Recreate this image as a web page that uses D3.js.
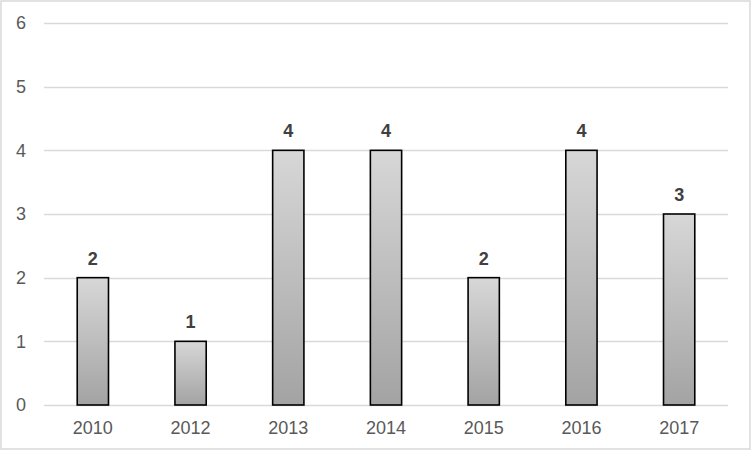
<!DOCTYPE html>
<html>
<head>
<meta charset="utf-8">
<script src="https://cdn.jsdelivr.net/npm/d3@7"></script>
<style>
  body { margin: 0; background: #fff; }
  text { font-family: "Liberation Sans", Arial, sans-serif; }
</style>
</head>
<body>
<div id="chart"></div>
<script>
// Data
const years = ["2010", "2012", "2013", "2014", "2015", "2016", "2017"];
const counts = [2, 1, 4, 4, 2, 4, 3];
const yTicks = [0, 1, 2, 3, 4, 5, 6];

const W = 752, H = 452;
const margin = {top: 23, right: 24, bottom: 47, left: 44};

const svg = d3.select("#chart").append("svg")
    .attr("width", W)
    .attr("height", H);

// outer frame
svg.append("rect")
    .attr("x", 1).attr("y", 1)
    .attr("width", W - 3).attr("height", H - 4)
    .attr("fill", "#fff")
    .attr("stroke", "#d9d9d9")
    .attr("stroke-width", 1.5);

const defs = svg.append("defs");
const grad = defs.append("linearGradient")
    .attr("id", "barGrad")
    .attr("x1", 0).attr("y1", 0).attr("x2", 0).attr("y2", 1);
grad.append("stop").attr("offset", "0%").attr("stop-color", "#d7d7d7");
grad.append("stop").attr("offset", "100%").attr("stop-color", "#a3a3a3");

const x = d3.scaleBand()
    .domain(years)
    .range([margin.left, W - margin.right])
    .paddingInner(0.68)
    .paddingOuter(0.34);

const y = d3.scaleLinear()
    .domain([0, 6])
    .range([H - margin.bottom, margin.top]);

// gridlines
svg.append("g")
  .selectAll("line")
  .data(yTicks)
  .join("line")
    .attr("x1", margin.left)
    .attr("x2", W - margin.right)
    .attr("y1", d => Math.round(y(d)) + 0.5)
    .attr("y2", d => Math.round(y(d)) + 0.5)
    .attr("stroke", "#d9d9d9")
    .attr("stroke-width", 1.3);

// y axis labels
const yAxis = d3.axisLeft(y).tickValues(yTicks).tickFormat(d3.format("d"))
    .tickSize(0).tickPadding(18);
svg.append("g")
    .attr("transform", `translate(${margin.left},0)`)
    .call(yAxis)
    .call(g => g.select(".domain").remove())
    .selectAll("text")
    .attr("font-size", 18)
    .attr("fill", "#595959")
    .attr("font-family", "Liberation Sans, Arial, sans-serif");

// x axis labels
const xAxis = d3.axisBottom(x).tickSize(0).tickPadding(16);
svg.append("g")
    .attr("transform", `translate(0,${H - margin.bottom})`)
    .call(xAxis)
    .call(g => g.select(".domain").remove())
    .selectAll("text")
    .attr("font-size", 18)
    .attr("fill", "#595959")
    .attr("font-family", "Liberation Sans, Arial, sans-serif");

// bars
svg.append("g")
  .selectAll("rect")
  .data(counts)
  .join("rect")
    .attr("x", (d, i) => x(years[i]))
    .attr("y", d => y(d))
    .attr("width", x.bandwidth())
    .attr("height", d => y(0) - y(d))
    .attr("fill", "url(#barGrad)")
    .attr("stroke", "#000")
    .attr("stroke-width", 1.6);

// value labels
svg.append("g")
  .selectAll("text")
  .data(counts)
  .join("text")
    .attr("x", (d, i) => x(years[i]) + x.bandwidth() / 2)
    .attr("y", d => y(d) - 13)
    .attr("text-anchor", "middle")
    .attr("font-size", 18)
    .attr("font-weight", "bold")
    .attr("fill", "#404040")
    .text(d => d);
</script>
</body>
</html>
